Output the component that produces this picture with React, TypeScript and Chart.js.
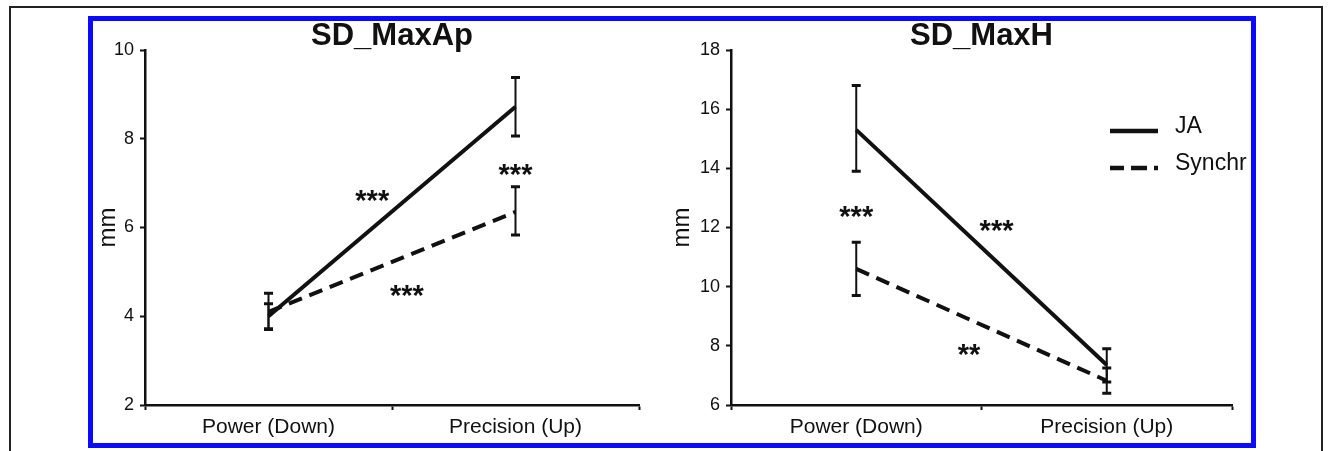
import React, { useEffect, useRef } from "react";
import { Chart, registerables } from "chart.js";

Chart.register(...registerables);

const FONT = "'Liberation Sans', Arial, Helvetica, sans-serif";
const INK = "#111111";

// ---- shared categories / series ----
const categories = ["Power (Down)", "Precision (Up)"];
const seriesNames = ["JA", "Synchr"];

// ---- SD_MaxAp (left panel) ----
const maxApTitle = "SD_MaxAp";
const maxApTicks = [2, 4, 6, 8, 10];
const maxApJA = [4.0, 8.72];
const maxApJALow = [3.7, 8.06];
const maxApJAHigh = [4.28, 9.38];
const maxApSyn = [4.1, 6.35];
const maxApSynLow = [3.72, 5.83];
const maxApSynHigh = [4.52, 6.92];
const maxApStarText = ["***", "***", "***"];
const maxApStarX = [0.42, 1.0, 0.56];
const maxApStarY = [6.78, 7.36, 4.64];

// ---- SD_MaxH (right panel) ----
const maxHTitle = "SD_MaxH";
const maxHTicks = [6, 8, 10, 12, 14, 16, 18];
const maxHJA = [15.3, 7.35];
const maxHJALow = [13.9, 6.78];
const maxHJAHigh = [16.8, 7.9];
const maxHSyn = [10.6, 6.82];
const maxHSynLow = [9.7, 6.4];
const maxHSynHigh = [11.5, 7.25];
const maxHStarText = ["***", "***", "**"];
const maxHStarX = [0.0, 0.56, 0.45];
const maxHStarY = [12.64, 12.16, 7.96];

const yTitle = "mm";

type Panel = {
  title: string;
  ticks: number[];
  ja: number[];
  jaLow: number[];
  jaHigh: number[];
  syn: number[];
  synLow: number[];
  synHigh: number[];
  starText: string[];
  starX: number[];
  starY: number[];
  axisWidth: number;
  padRight: number;
  legend: boolean;
};

function makeConfig(p: Panel): any {
  const errorBars = {
    id: "errorBars",
    afterDatasetsDraw(chart: any) {
      const { ctx, scales } = chart;
      const x = scales.x;
      const y = scales.y;
      const lows = [p.jaLow, p.synLow];
      const highs = [p.jaHigh, p.synHigh];
      ctx.save();
      ctx.strokeStyle = INK;
      lows.forEach((lowArr, d) => {
        lowArr.forEach((lo, i) => {
          const hi = highs[d][i];
          const px = x.getPixelForValue(i);
          const y1 = y.getPixelForValue(hi);
          const y2 = y.getPixelForValue(lo);
          ctx.lineWidth = 2;
          ctx.beginPath();
          ctx.moveTo(px, y1);
          ctx.lineTo(px, y2);
          ctx.stroke();
          ctx.lineWidth = 3;
          ctx.beginPath();
          ctx.moveTo(px - 4.5, y1);
          ctx.lineTo(px + 4.5, y1);
          ctx.moveTo(px - 4.5, y2);
          ctx.lineTo(px + 4.5, y2);
          ctx.stroke();
        });
      });
      ctx.restore();
    },
  };

  const stars = {
    id: "stars",
    afterDraw(chart: any) {
      const { ctx, scales } = chart;
      ctx.save();
      ctx.fillStyle = INK;
      ctx.font = `bold 29px ${FONT}`;
      ctx.textAlign = "center";
      ctx.textBaseline = "alphabetic";
      p.starText.forEach((t, i) => {
        const px = scales.x.getPixelForValue(p.starX[i]);
        const py = scales.y.getPixelForValue(p.starY[i]);
        ctx.fillText(t, px, py + 17);
      });
      ctx.restore();
    },
  };

  const legendPlugin = {
    id: "sideLegend",
    afterDraw(chart: any) {
      if (!p.legend) return;
      const { ctx, chartArea } = chart;
      const rows = [
        { name: seriesNames[0], dash: [] as number[], dy: 81 },
        { name: seriesNames[1], dash: [14, 7, 16, 7, 5, 40], dy: 118 },
      ];
      ctx.save();
      rows.forEach((r) => {
        const y = chartArea.top + r.dy;
        ctx.strokeStyle = INK;
        ctx.lineWidth = 4.5;
        ctx.setLineDash(r.dash);
        ctx.beginPath();
        ctx.moveTo(chartArea.right - 122, y);
        ctx.lineTo(chartArea.right - 74, y);
        ctx.stroke();
        ctx.setLineDash([]);
        ctx.fillStyle = INK;
        ctx.font = `23px ${FONT}`;
        ctx.textAlign = "left";
        ctx.textBaseline = "alphabetic";
        ctx.fillText(r.name, chartArea.right - 57, y + 2);
      });
      ctx.restore();
    },
  };

  return {
    type: "line",
    data: {
      labels: categories,
      datasets: [
        {
          label: seriesNames[0],
          data: p.ja,
          borderColor: INK,
          borderWidth: 4,
          pointRadius: 0,
          fill: false,
          tension: 0,
        },
        {
          label: seriesNames[1],
          data: p.syn,
          borderColor: INK,
          borderWidth: 4,
          borderDash: [14, 8],
          pointRadius: 0,
          fill: false,
          tension: 0,
        },
      ],
    },
    options: {
      responsive: false,
      animation: false,
      layout: { padding: { left: 0, right: p.padRight, top: 0, bottom: 0 } },
      plugins: {
        legend: { display: false },
        tooltip: { enabled: false },
        title: {
          display: true,
          text: p.title,
          fullSize: false,
          color: INK,
          font: { family: FONT, size: 31, weight: "bold", lineHeight: 1 },
          padding: { top: 1, bottom: -2 },
        },
      },
      scales: {
        x: {
          type: "category",
          offset: true,
          grid: {
            offset: true,
            drawOnChartArea: false,
            drawTicks: true,
            tickLength: 5,
            tickWidth: 2,
            tickColor: INK,
          },
          border: { display: true, color: INK, width: 2.5 },
          ticks: {
            color: INK,
            padding: 5,
            font: { family: FONT, size: 21 },
            maxRotation: 0,
            autoSkip: false,
          },
          afterFit(scale: any) {
            scale.height = 38;
          },
        },
        y: {
          min: p.ticks[0],
          max: p.ticks[p.ticks.length - 1],
          afterBuildTicks(scale: any) {
            scale.ticks = p.ticks.map((v) => ({ value: v }));
          },
          grid: {
            drawOnChartArea: false,
            drawTicks: true,
            tickLength: 5,
            tickWidth: 2,
            tickColor: INK,
          },
          border: { display: true, color: INK, width: 2.5 },
          ticks: {
            color: INK,
            padding: 6,
            font: { family: FONT, size: 18 },
          },
          title: {
            display: true,
            text: yTitle,
            color: INK,
            font: { family: FONT, size: 24 },
            padding: 0,
          },
          afterFit(scale: any) {
            scale.width = p.axisWidth;
          },
        },
      },
    },
    plugins: [errorBars, stars, legendPlugin],
  };
}

function ChartCanvas(props: { panel: Panel; left: number; top: number; width: number; height: number }) {
  const ref = useRef<HTMLCanvasElement>(null);
  useEffect(() => {
    const chart = new Chart(ref.current as HTMLCanvasElement, makeConfig(props.panel));
    return () => chart.destroy();
  }, []);
  return (
    <canvas
      ref={ref}
      width={props.width}
      height={props.height}
      style={{
        position: "absolute",
        left: props.left,
        top: props.top,
        width: props.width,
        height: props.height,
      }}
    />
  );
}

const leftPanel: Panel = {
  title: maxApTitle,
  ticks: maxApTicks,
  ja: maxApJA,
  jaLow: maxApJALow,
  jaHigh: maxApJAHigh,
  syn: maxApSyn,
  synLow: maxApSynLow,
  synHigh: maxApSynHigh,
  starText: maxApStarText,
  starX: maxApStarX,
  starY: maxApStarY,
  axisWidth: 51,
  padRight: 21,
  legend: false,
};

const rightPanel: Panel = {
  title: maxHTitle,
  ticks: maxHTicks,
  ja: maxHJA,
  jaLow: maxHJALow,
  jaHigh: maxHJAHigh,
  syn: maxHSyn,
  synLow: maxHSynLow,
  synHigh: maxHSynHigh,
  starText: maxHStarText,
  starX: maxHStarX,
  starY: maxHStarY,
  axisWidth: 63,
  padRight: 19,
  legend: true,
};

export default function App() {
  return (
    <div
      style={{
        position: "fixed",
        left: 0,
        top: 0,
        width: 1332,
        height: 451,
        overflow: "hidden",
        background: "#ffffff",
      }}
    >
      <div
        style={{
          position: "absolute",
          left: 9,
          top: 6,
          width: 1310,
          height: 470,
          border: "2px solid #222222",
        }}
      />
      <div
        style={{
          position: "absolute",
          left: 88,
          top: 16,
          width: 1158,
          height: 422,
          border: "5px solid #0a0aff",
          background: "#ffffff",
        }}
      />
      <ChartCanvas panel={leftPanel} left={94} top={20} width={566} height={423} />
      <ChartCanvas panel={rightPanel} left={668} top={20} width={583} height={423} />
    </div>
  );
}
